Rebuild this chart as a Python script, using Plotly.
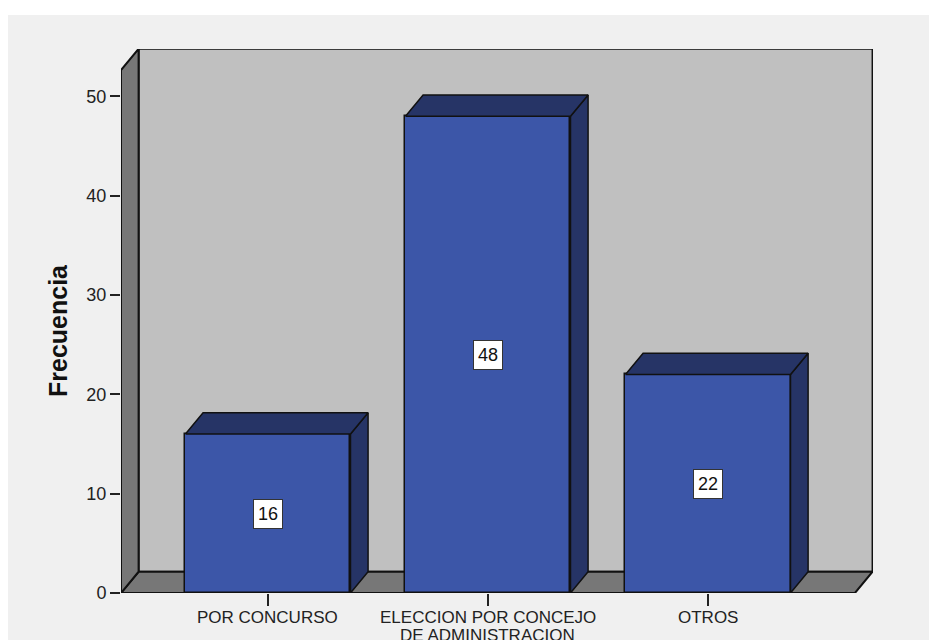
import plotly.graph_objects as go

# ---- data ----
categories = ["POR CONCURSO", "ELECCION POR CONCEJO<br>DE ADMINISTRACION", "OTROS"]
frecuencia = [16, 48, 22]
y_ticks = [0, 10, 20, 30, 40, 50]

# ---- styling / geometry constants ----
OFF = 8                      # browser body margin
W, H = 937 - OFF, 640 - OFF
ML, MR, MT = 121 - OFF, 64, 49 - OFF
MB = H - (593 - OFF)
BAR_W = 0.75
DX = 0.080          # depth offset in x data units
DY = 2.14           # depth offset in y data units
X0, X1 = -0.668, 2.668   # front floor extent
YTOP = 52.65             # front top of walls
XR = [-0.668, 2.75]
YR = [0, 54.77]

FRONT = "#3c56a8"
SIDE = "#263466"
WALL_BACK = "#c0c0c0"
WALL_SIDE = "#777777"
EDGE = "#111111"
FONT = "Liberation Sans, Arial, sans-serif"

fig = go.Figure()

xs = list(range(len(categories)))

# front faces of bars
fig.add_trace(go.Bar(
    x=xs, y=frecuencia, width=BAR_W,
    marker=dict(color=FRONT, line=dict(color=EDGE, width=1.5)),
    hoverinfo="skip", showlegend=False,
))

# side and top faces
for c, v in zip(xs, frecuencia):
    l, r = c - BAR_W / 2, c + BAR_W / 2
    side_x = [r, r + DX, r + DX, r, r]
    side_y = [0, DY, v + DY, v, 0]
    top_x = [l, r, r + DX, l + DX, l]
    top_y = [v, v, v + DY, v + DY, v]
    for px, py in ((side_x, side_y), (top_x, top_y)):
        fig.add_trace(go.Scatter(
            x=px, y=py, mode="lines", fill="toself", fillcolor=SIDE,
            line=dict(color=EDGE, width=1.5), hoverinfo="skip", showlegend=False,
        ))

def path(pts):
    return "M " + " L ".join(f"{x},{y}" for x, y in pts) + " Z"

px_w = W - ML - MR
px_h = H - MT - MB
def paper_x(p):
    return (p - ML) / px_w
def paper_y(p):
    return (H - MB - p) / px_h

shapes = []
# white strip at the top of the page
shapes.append(dict(type="rect", xref="paper", yref="paper", x0=paper_x(-5), x1=paper_x(W + 5),
                   y0=paper_y(15 - OFF), y1=paper_y(-5), fillcolor="white", line=dict(width=0), layer="below"))

# back wall
shapes.append(dict(type="path", xref="x", yref="y", layer="below",
                   path=path([(X0 + DX, DY), (X1 + DX, DY), (X1 + DX, YTOP + DY), (X0 + DX, YTOP + DY)]),
                   fillcolor=WALL_BACK, line=dict(color=EDGE, width=2)))
# floor
shapes.append(dict(type="path", xref="x", yref="y", layer="below",
                   path=path([(X0, 0), (X1, 0), (X1 + DX, DY), (X0 + DX, DY)]),
                   fillcolor=WALL_SIDE, line=dict(color=EDGE, width=2)))
# left wall
shapes.append(dict(type="path", xref="x", yref="y", layer="below",
                   path=path([(X0, 0), (X0 + DX, DY), (X0 + DX, YTOP + DY), (X0, YTOP)]),
                   fillcolor=WALL_SIDE, line=dict(color=EDGE, width=2)))

annotations = []
for c, v in zip(xs, frecuencia):
    annotations.append(dict(
        x=c, y=v / 2, xref="x", yref="y", text=str(v), showarrow=False,
        font=dict(family=FONT, size=18, color="#111111"),
        bgcolor="white", bordercolor="#333333", borderwidth=1, borderpad=4,
    ))

# category labels, one annotation per line (tight line spacing as in the original)
for c, lab in zip(xs, categories):
    for i, line in enumerate(lab.split("<br>")):
        annotations.append(dict(
            x=c, y=paper_y(606 - OFF + 18 * i), xref="x", yref="paper", text=line,
            showarrow=False, xanchor="center", yanchor="top",
            font=dict(family=FONT, size=17, color="#222222"),
        ))

# y-axis title
annotations.append(dict(
    x=paper_x(58 - OFF), y=paper_y(331 - OFF), xref="paper", yref="paper",
    text="<b>Frecuencia</b>", textangle=-90, showarrow=False,
    xanchor="center", yanchor="middle",
    font=dict(family=FONT, size=25, color="#111111"),
))

fig.update_layout(
    width=W, height=H,
    margin=dict(l=ML, r=MR, t=MT, b=MB, pad=0, autoexpand=False),
    paper_bgcolor="#f0f0f0",
    plot_bgcolor="rgba(0,0,0,0)",
    shapes=shapes,
    annotations=annotations,
    font=dict(family=FONT, size=17, color="#222222"),
    xaxis=dict(
        range=XR, tickmode="array", tickvals=xs, showticklabels=False,
        showgrid=False, zeroline=False, showline=False, automargin=False,
        ticks="outside", ticklen=12, tickwidth=1.5, tickcolor="#222222",
        fixedrange=True,
    ),
    yaxis=dict(
        range=YR, tickmode="array", tickvals=y_ticks,
        showgrid=False, zeroline=False, showline=False, automargin=False,
        ticks="outside", ticklen=10, tickwidth=1.5, tickcolor="#222222",
        tickfont=dict(size=18, color="#222222"),
        fixedrange=True,
    ),
    bargap=0,
)

fig.write_html("out.html")
